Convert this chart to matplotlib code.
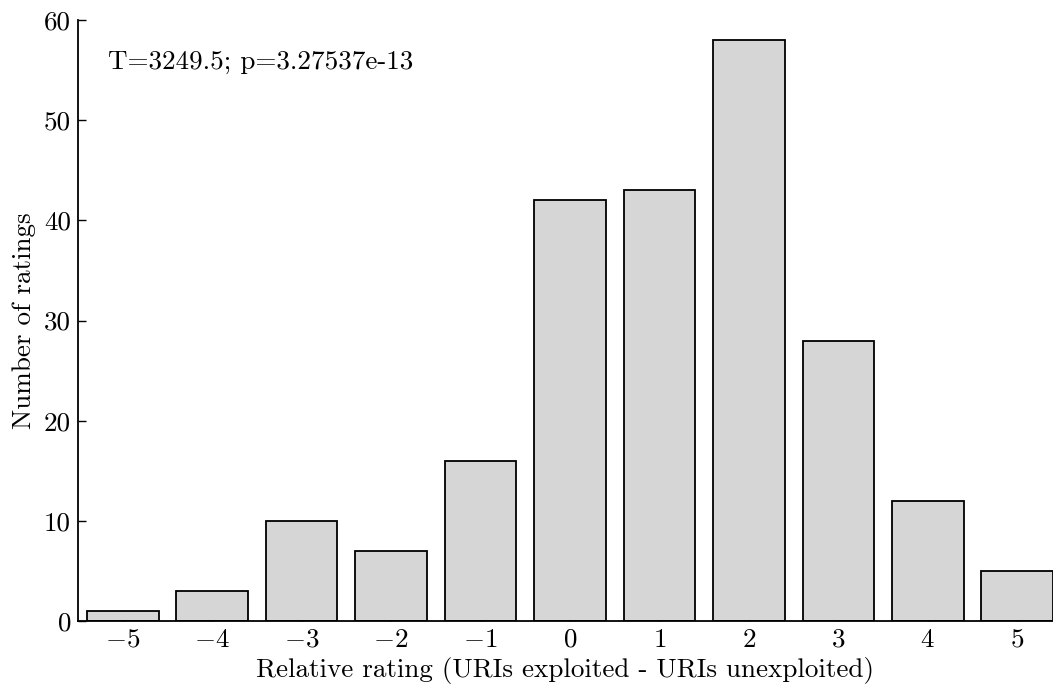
import matplotlib
matplotlib.use("Agg")
import matplotlib.pyplot as plt

ratings = [-5, -4, -3, -2, -1, 0, 1, 2, 3, 4, 5]
counts = [1, 3, 10, 7, 16, 42, 43, 58, 28, 12, 5]
yticks = [0, 10, 20, 30, 40, 50, 60]
annotation = "T=3249.5; p=3.27537e-13"
xlabel = "Relative rating (URIs exploited - URIs unexploited)"
ylabel = "Number of ratings"

plt.rcParams['font.family'] = 'serif'
plt.rcParams['font.serif'] = ['cmr10']
plt.rcParams['mathtext.fontset'] = 'cm'
plt.rcParams['axes.formatter.use_mathtext'] = True
plt.rcParams['axes.unicode_minus'] = True

fig = plt.figure(figsize=(10.53, 6.88), dpi=100)
W, H = 1053, 688
left, right, bottom, top = 78, 1053, 621, 20
ax = fig.add_axes([left / W, 1 - bottom / H, (right - left) / W, (bottom - top) / H])

ax.bar(ratings, counts, width=0.8, color='#d6d6d6', edgecolor='black', linewidth=1.3, zorder=2)

ax.set_xlim(-5.5, 5.4)
ax.set_ylim(0, 60)
ax.set_xticks(ratings)
ax.set_xticklabels([f"${r}$" if r >= 0 else f"$-{abs(r)}$" for r in ratings])
ax.set_yticks(yticks)
ax.set_yticklabels([str(v) for v in yticks])

for s in ['top', 'right']:
    ax.spines[s].set_visible(False)
for s in ['left', 'bottom']:
    ax.spines[s].set_linewidth(1.3)

ax.tick_params(direction='in', length=6, width=1, labelsize=19.5, pad=5,
               top=False, right=False)

ax.set_xlabel(xlabel, fontsize=19.5, labelpad=4)
ax.set_ylabel(ylabel, fontsize=19.5, labelpad=6)

ax.text(-5.17, 55.8, annotation, fontsize=19.5, va='center', ha='left')

fig.savefig("out.png", dpi=100)
